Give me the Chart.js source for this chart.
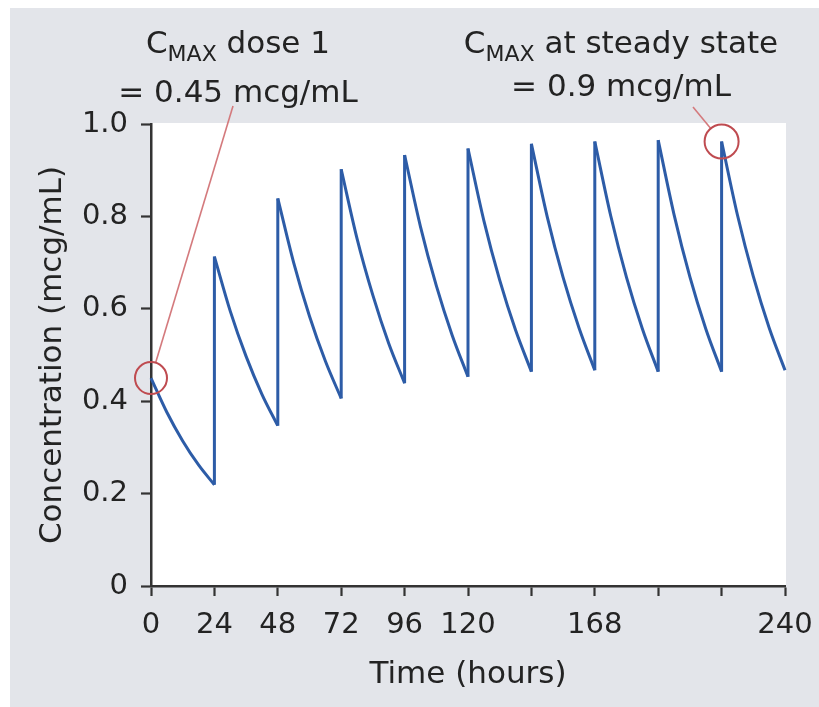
<!DOCTYPE html>
<html>
<head>
<meta charset="utf-8">
<title>Concentration over repeated dosing</title>
<script src="https://cdn.jsdelivr.net/npm/chart.js@4/dist/chart.umd.min.js"></script>
<style>
  html, body { margin: 0; padding: 0; background: #ffffff; }
  canvas { display: block; }
</style>
</head>
<body>
<canvas id="chart" width="819" height="707"></canvas>
<script>
// Dosing times (hours) and concentrations (mcg/mL) across each 24-h interval
const doseTimes  = [0, 24, 48, 72, 96, 120, 144, 168, 192, 216];
const peakConc   = [0.45, 0.713, 0.839, 0.902, 0.933, 0.947, 0.957, 0.962, 0.965, 0.962];
const conc6h     = [0.376, 0.595, 0.700, 0.752, 0.778, 0.791, 0.799, 0.802, 0.804, 0.803];
const conc12h    = [0.314, 0.497, 0.584, 0.629, 0.650, 0.662, 0.668, 0.668, 0.669, 0.670];
const conc18h    = [0.262, 0.415, 0.487, 0.525, 0.543, 0.554, 0.559, 0.557, 0.557, 0.559];
const troughConc = [0.219, 0.347, 0.406, 0.439, 0.453, 0.464, 0.467, 0.464, 0.464, 0.467];

// Axis tick labels
const xTickValues = [0, 24, 48, 72, 96, 120, 144, 168, 192, 216, 240];
const xTickLabels = ['0', '24', '48', '72', '96', '120', '', '168', '', '', '240'];
const yTickValues = [0, 0.2, 0.4, 0.6, 0.8, 1.0];
const yTickLabels = ['0', '0.2', '0.4', '0.6', '0.8', '1.0'];

const FONT = "'DejaVu Sans', 'Liberation Sans', sans-serif";
const LINE_BLUE = '#2d5ca7';
const MARK_RED = '#bf4b50';
const TEXT = '#232323';
const AXIS = '#333333';

// One smooth decay segment per dosing interval
const segments = doseTimes.map((t, i) => ({
  data: [
    { x: t,      y: peakConc[i] },
    { x: t + 6,  y: conc6h[i] },
    { x: t + 12, y: conc12h[i] },
    { x: t + 18, y: conc18h[i] },
    { x: t + 24, y: troughConc[i] }
  ],
  borderColor: LINE_BLUE,
  borderWidth: 3,
  pointRadius: 0,
  cubicInterpolationMode: 'monotone',
  clip: false
}));

// Vertical rise at each new dose (trough of previous interval -> new peak)
const jumpPoints = [];
for (let i = 1; i < doseTimes.length; i++) {
  jumpPoints.push({ x: doseTimes[i], y: troughConc[i - 1] });
  jumpPoints.push({ x: doseTimes[i], y: peakConc[i] });
  jumpPoints.push({ x: doseTimes[i], y: null });
}
const jumps = {
  data: jumpPoints,
  borderColor: LINE_BLUE,
  borderWidth: 3,
  pointRadius: 0,
  tension: 0,
  spanGaps: false,
  clip: false
};

// Page background and white plot panel
const backdrop = {
  id: 'backdrop',
  beforeDraw(chart) {
    const { ctx, chartArea: a } = chart;
    ctx.save();
    ctx.fillStyle = '#ffffff';
    ctx.fillRect(0, 0, chart.width, chart.height);
    ctx.fillStyle = '#e3e5ea';
    ctx.fillRect(10, 8, chart.width - 10, chart.height - 8);
    ctx.fillStyle = '#ffffff';
    ctx.fillRect(a.left, a.top - 1, a.right - a.left + 1, a.bottom - a.top + 1);
    ctx.restore();
  }
};

// "C" with subscript "MAX" followed by the rest of the line, centred on cx
function drawCmaxLine(ctx, cx, baseline, rest) {
  ctx.font = '31px ' + FONT;
  const wC = ctx.measureText('C').width;
  const wRest = ctx.measureText(rest).width;
  ctx.font = '22px ' + FONT;
  const wSub = ctx.measureText('MAX').width;
  let x = cx - (wC + wSub + wRest) / 2;
  ctx.textAlign = 'left';
  ctx.textBaseline = 'alphabetic';
  ctx.font = '31px ' + FONT;
  ctx.fillText('C', x, baseline);
  x += wC;
  ctx.font = '22px ' + FONT;
  ctx.fillText('MAX', x, baseline + 8);
  x += wSub;
  ctx.font = '31px ' + FONT;
  ctx.fillText(rest, x, baseline);
}

function drawCallout(ctx, cx, cy, r, tx, ty) {
  const dx = tx - cx, dy = ty - cy;
  const len = Math.hypot(dx, dy);
  ctx.strokeStyle = '#d47a7d';
  ctx.lineWidth = 1.6;
  ctx.beginPath();
  ctx.moveTo(cx + dx / len * r, cy + dy / len * r);
  ctx.lineTo(tx, ty);
  ctx.stroke();
  ctx.strokeStyle = MARK_RED;
  ctx.lineWidth = 2;
  ctx.beginPath();
  ctx.arc(cx, cy, r, 0, Math.PI * 2);
  ctx.stroke();
}

const callouts = {
  id: 'callouts',
  afterDraw(chart) {
    const { ctx, scales: { x, y } } = chart;
    ctx.save();
    // first-dose peak
    const p1x = x.getPixelForValue(doseTimes[0]);
    const p1y = y.getPixelForValue(peakConc[0]);
    drawCallout(ctx, p1x, p1y, 16, 233, 106);
    // steady-state peak
    const last = doseTimes.length - 1;
    const p2x = x.getPixelForValue(doseTimes[last]);
    const p2y = y.getPixelForValue(peakConc[last]);
    drawCallout(ctx, p2x, p2y, 17, 693, 107);

    ctx.fillStyle = TEXT;
    drawCmaxLine(ctx, 238, 53, ' dose 1');
    ctx.font = '31px ' + FONT;
    ctx.textAlign = 'center';
    ctx.fillText('= 0.45 mcg/mL', 238, 102);
    drawCmaxLine(ctx, 621, 53, ' at steady state');
    ctx.font = '31px ' + FONT;
    ctx.textAlign = 'center';
    ctx.fillText('= 0.9 mcg/mL', 621, 96);
    ctx.restore();
  }
};

new Chart(document.getElementById('chart'), {
  type: 'line',
  data: { datasets: [...segments, jumps] },
  plugins: [backdrop, callouts],
  options: {
    responsive: false,
    animation: false,
    layout: { padding: { top: 124, right: 34, bottom: 0, left: 0 } },
    plugins: { legend: { display: false }, tooltip: { enabled: false } },
    scales: {
      x: {
        type: 'linear',
        min: 0,
        max: 240,
        afterFit(s) { s.height = 121; s.paddingLeft = 0; s.paddingRight = 0; },
        afterBuildTicks(s) { s.ticks = xTickValues.map(v => ({ value: v })); },
        ticks: {
          autoSkip: false,
          maxRotation: 0,
          padding: 12,
          color: TEXT,
          font: { family: FONT, size: 29 },
          callback: (v) => xTickLabels[xTickValues.indexOf(v)]
        },
        grid: { drawOnChartArea: false, drawTicks: true, tickLength: 10, tickColor: AXIS, tickWidth: 2.2 },
        border: { display: true, color: AXIS, width: 2.5 },
        title: {
          display: true,
          text: 'Time (hours)',
          color: TEXT,
          font: { family: FONT, size: 31 },
          padding: { top: 0, bottom: 13 }
        }
      },
      y: {
        min: 0,
        max: 1.0,
        afterFit(s) { s.width = 151; s.paddingTop = 0; s.paddingBottom = 0; },
        afterBuildTicks(s) { s.ticks = yTickValues.map(v => ({ value: v })); },
        ticks: {
          padding: 13,
          color: TEXT,
          font: { family: FONT, size: 29 },
          callback: (v) => yTickLabels[yTickValues.findIndex(t => Math.abs(t - v) < 1e-9)]
        },
        grid: { drawOnChartArea: false, drawTicks: true, tickLength: 10, tickColor: AXIS, tickWidth: 2.2 },
        border: { display: true, color: AXIS, width: 2.5 },
        title: {
          display: true,
          text: 'Concentration (mcg/mL)',
          color: TEXT,
          font: { family: FONT, size: 31 },
          padding: { top: 34, bottom: 0 }
        }
      }
    }
  }
});
</script>
</body>
</html>
